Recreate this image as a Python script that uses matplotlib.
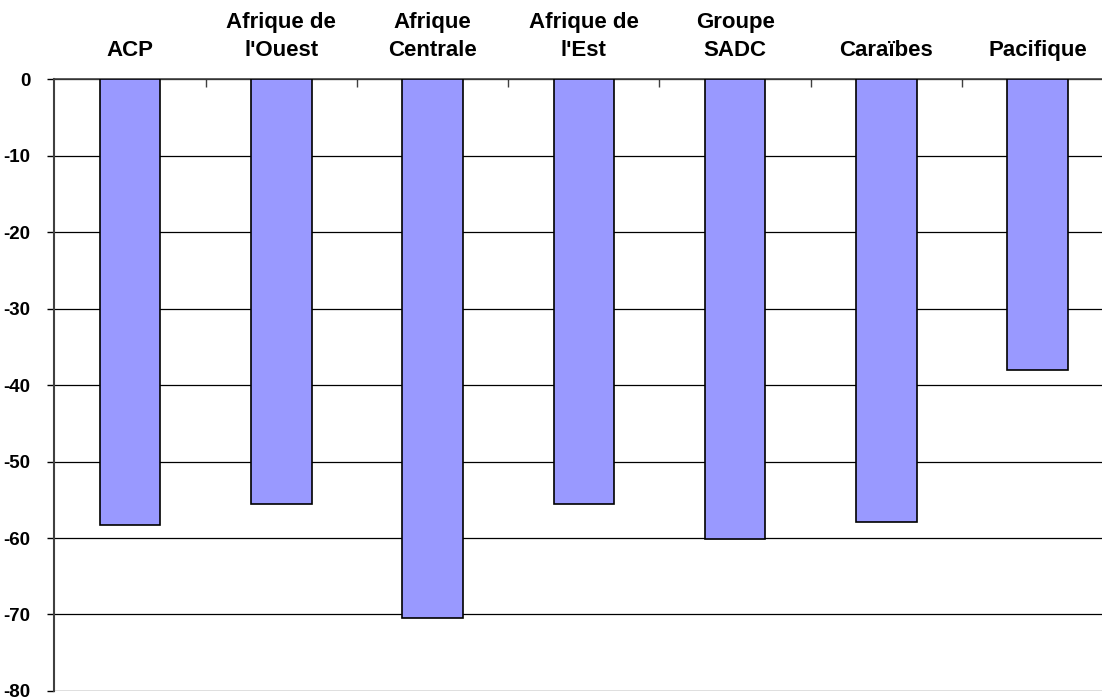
import matplotlib
matplotlib.use("Agg")
import matplotlib.pyplot as plt
import numpy as np

# data
categories = ["ACP", "Afrique de\nl'Ouest", "Afrique\nCentrale", "Afrique de\nl'Est",
              "Groupe\nSADC", "Caraïbes", "Pacifique"]
values = [-58.3, -55.6, -70.4, -55.6, -60.1, -57.9, -38.0]
yticks = [0, -10, -20, -30, -40, -50, -60, -70, -80]

plt.rcParams['font.family'] = ['Liberation Sans', 'DejaVu Sans']

fig = plt.figure(figsize=(11.02, 7.0), dpi=100)
ax = fig.add_axes([0.0493, 0.0129, 0.961, 0.874])

x = np.arange(len(categories))
ax.bar(x, values, width=0.4, color='#9999FF', edgecolor='black', linewidth=1.2, zorder=3)

ax.set_xlim(-0.5, len(categories) - 0.5)
ax.set_ylim(-80, 0)

# category labels on top, boundary ticks pointing down from the zero line
ax.xaxis.tick_top()
ax.set_xticks(x)
ax.set_xticklabels(categories, fontsize=16, fontweight='bold', linespacing=1.45)
ax.tick_params(axis='x', which='major', length=0, pad=13)
ax.set_xticks(np.arange(0.5, len(categories) - 0.5, 1), minor=True)
ax.tick_params(axis='x', which='minor', direction='in', length=6, width=1, color='#404040')

ax.set_yticks(yticks)
ax.set_yticklabels([str(v) for v in yticks], fontsize=13.5, fontweight='bold')
ax.tick_params(axis='y', direction='out', length=5, width=1, pad=12)

ax.grid(axis='y', color='black', linewidth=0.9)
ax.set_axisbelow(True)

for side in ['right', 'bottom']:
    ax.spines[side].set_visible(False)
ax.spines['top'].set_color('#404040')
ax.spines['top'].set_linewidth(1.2)
ax.spines['left'].set_color('#404040')
ax.spines['left'].set_linewidth(1.5)

fig.savefig("out.png", dpi=100)
